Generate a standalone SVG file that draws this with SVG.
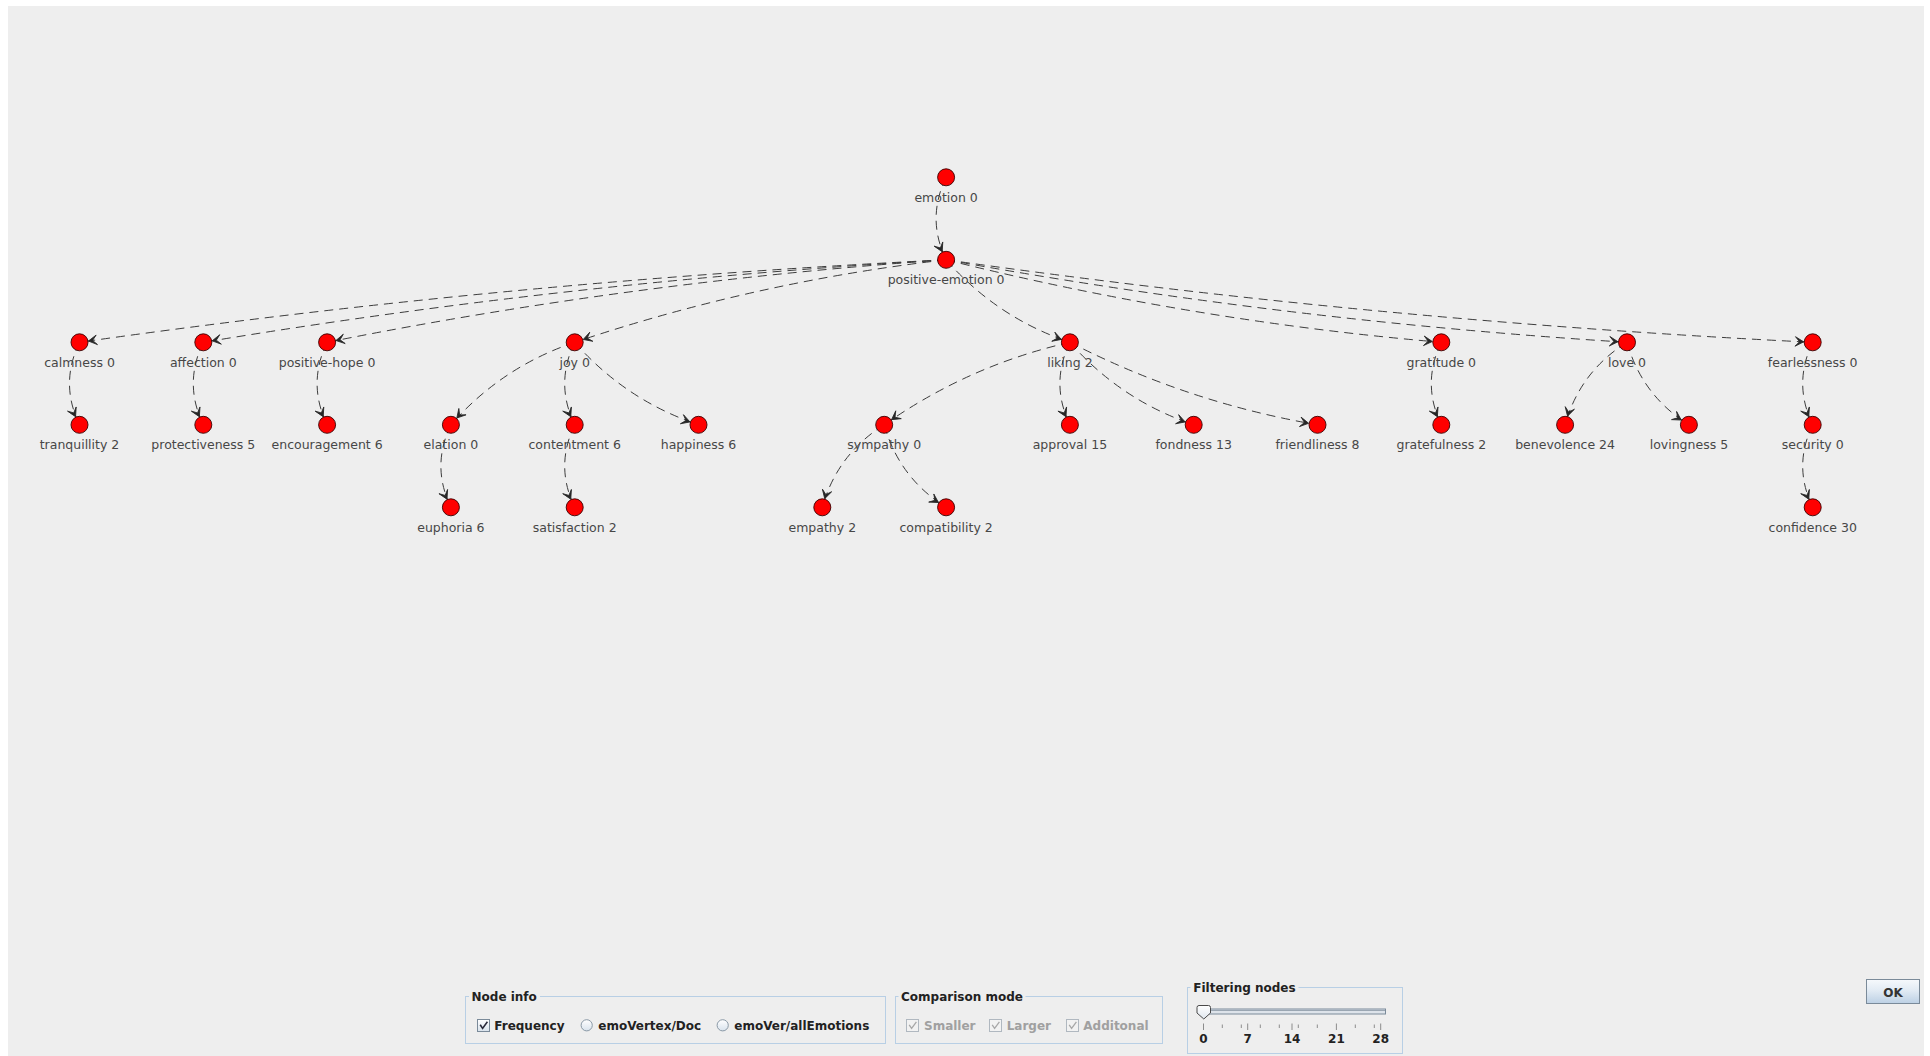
<svg xmlns="http://www.w3.org/2000/svg" width="1930" height="1056" viewBox="0 0 1930 1056">
<style>
.node circle{fill:#ff0000;stroke:#3a0000;stroke-width:0.9}
.node text{font-family:"DejaVu Sans",sans-serif;font-size:12.5px;fill:#474747;text-anchor:middle}
.edges path{fill:none;stroke:#3c3c3c;stroke-width:1;stroke-dasharray:9 6;marker-end:url(#arr)}
.ui{font-family:"DejaVu Sans",sans-serif;font-size:12px;font-weight:bold;fill:#222}
.dis{fill:#a0a0a0}
.tb{fill:none;stroke:#b8cfe5;stroke-width:1}
.gap{fill:#eeeeee}
.cb{fill:url(#cbg);stroke:#7a8a99;stroke-width:1}
.cbd{fill:#f2f2f2;stroke:#b0b8c0;stroke-width:1}
.ck{fill:none;stroke:#2a2a3a;stroke-width:1.6}
.ckd{fill:none;stroke:#a8a8a8;stroke-width:1.3}
.rb{fill:url(#cbg);stroke:#8a99a6;stroke-width:1}
.tick{stroke:#8c8c8c;stroke-width:1}
</style>
<defs>
<marker id="arr" markerUnits="userSpaceOnUse" orient="auto" viewBox="-20 -7 20 14" markerWidth="20" markerHeight="14" refX="0" refY="0" overflow="visible">
<path d="M-9 0 L-17.5 -4.8 L-13.2 0 L-17.5 4.8 Z" fill="#262626" stroke="#262626" stroke-width="0.8" stroke-linejoin="round"/>
</marker>
<linearGradient id="cbg" x1="0" y1="0" x2="0" y2="1">
<stop offset="0" stop-color="#ffffff"/>
<stop offset="1" stop-color="#d8e2ec"/>
</linearGradient>
<linearGradient id="okg" x1="0" y1="0" x2="0" y2="1">
<stop offset="0" stop-color="#f6f9fc"/>
<stop offset="0.45" stop-color="#e2ebf4"/>
<stop offset="1" stop-color="#bcd0e4"/>
</linearGradient>
<linearGradient id="thg" x1="0" y1="0" x2="0" y2="1">
<stop offset="0" stop-color="#ffffff"/>
<stop offset="1" stop-color="#dfe6ee"/>
</linearGradient>
</defs>
<rect x="0" y="0" width="1930" height="1056" fill="#ffffff"/>
<rect x="8" y="6" width="1916" height="1050" fill="#eeeeee"/>

<g id="connectors" class="edges">
<path d="M946.1 177.3 Q926.1 218.55 946.1 259.8"/>
<path d="M946.1 259.8 Q510.9 281.14 79.5 342.3"/>
<path d="M946.1 259.8 Q572.49 281.17 203.3 342.3"/>
<path d="M946.1 259.8 Q633.96 281.23 327.1 342.3"/>
<path d="M946.1 259.8 Q756.06 281.53 574.7 342.3"/>
<path d="M946.1 259.8 Q996.91 317.69 1069.9 342.3"/>
<path d="M946.1 259.8 Q1190.41 320.78 1441.3 342.3"/>
<path d="M946.1 259.8 Q1284.14 320.9 1627 342.3"/>
<path d="M946.1 259.8 Q1377.5 320.96 1812.7 342.3"/>
<path d="M79.5 342.3 Q59.5 383.55 79.5 424.8"/>
<path d="M203.3 342.3 Q183.3 383.55 203.3 424.8"/>
<path d="M327.1 342.3 Q307.1 383.55 327.1 424.8"/>
<path d="M574.7 342.3 Q501.71 366.91 450.9 424.8"/>
<path d="M574.7 342.3 Q554.7 383.55 574.7 424.8"/>
<path d="M574.7 342.3 Q625.51 400.19 698.5 424.8"/>
<path d="M1069.9 342.3 Q968.93 365.27 884.2 424.8"/>
<path d="M1069.9 342.3 Q1049.9 383.55 1069.9 424.8"/>
<path d="M1069.9 342.3 Q1120.71 400.19 1193.7 424.8"/>
<path d="M1069.9 342.3 Q1187.38 402.53 1317.5 424.8"/>
<path d="M1441.3 342.3 Q1421.3 383.55 1441.3 424.8"/>
<path d="M1627 342.3 Q1580.05 371.55 1565.1 424.8"/>
<path d="M1627 342.3 Q1641.95 395.55 1688.9 424.8"/>
<path d="M1812.7 342.3 Q1792.7 383.55 1812.7 424.8"/>
<path d="M450.9 424.8 Q430.9 466.05 450.9 507.3"/>
<path d="M574.7 424.8 Q554.7 466.05 574.7 507.3"/>
<path d="M884.2 424.8 Q837.25 454.05 822.3 507.3"/>
<path d="M884.2 424.8 Q899.15 478.05 946.1 507.3"/>
<path d="M1812.7 424.8 Q1792.7 466.05 1812.7 507.3"/>
</g>

<g id="n-emotion" class="node"><circle cx="946.1" cy="177.3" r="8.5"/><text x="946.1" y="201.8">emotion 0</text></g>
<g id="n-positive-emotion" class="node"><circle cx="946.1" cy="259.8" r="8.5"/><text x="946.1" y="284.3">positive-emotion 0</text></g>
<g id="n-calmness" class="node"><circle cx="79.5" cy="342.3" r="8.5"/><text x="79.5" y="366.8">calmness 0</text></g>
<g id="n-affection" class="node"><circle cx="203.3" cy="342.3" r="8.5"/><text x="203.3" y="366.8">affection 0</text></g>
<g id="n-positive-hope" class="node"><circle cx="327.1" cy="342.3" r="8.5"/><text x="327.1" y="366.8">positive-hope 0</text></g>
<g id="n-joy" class="node"><circle cx="574.7" cy="342.3" r="8.5"/><text x="574.7" y="366.8">joy 0</text></g>
<g id="n-liking" class="node"><circle cx="1069.9" cy="342.3" r="8.5"/><text x="1069.9" y="366.8">liking 2</text></g>
<g id="n-gratitude" class="node"><circle cx="1441.3" cy="342.3" r="8.5"/><text x="1441.3" y="366.8">gratitude 0</text></g>
<g id="n-love" class="node"><circle cx="1627" cy="342.3" r="8.5"/><text x="1627" y="366.8">love 0</text></g>
<g id="n-fearlessness" class="node"><circle cx="1812.7" cy="342.3" r="8.5"/><text x="1812.7" y="366.8">fearlessness 0</text></g>
<g id="n-tranquillity" class="node"><circle cx="79.5" cy="424.8" r="8.5"/><text x="79.5" y="449.3">tranquillity 2</text></g>
<g id="n-protectiveness" class="node"><circle cx="203.3" cy="424.8" r="8.5"/><text x="203.3" y="449.3">protectiveness 5</text></g>
<g id="n-encouragement" class="node"><circle cx="327.1" cy="424.8" r="8.5"/><text x="327.1" y="449.3">encouragement 6</text></g>
<g id="n-elation" class="node"><circle cx="450.9" cy="424.8" r="8.5"/><text x="450.9" y="449.3">elation 0</text></g>
<g id="n-contentment" class="node"><circle cx="574.7" cy="424.8" r="8.5"/><text x="574.7" y="449.3">contentment 6</text></g>
<g id="n-happiness" class="node"><circle cx="698.5" cy="424.8" r="8.5"/><text x="698.5" y="449.3">happiness 6</text></g>
<g id="n-sympathy" class="node"><circle cx="884.2" cy="424.8" r="8.5"/><text x="884.2" y="449.3">sympathy 0</text></g>
<g id="n-approval" class="node"><circle cx="1069.9" cy="424.8" r="8.5"/><text x="1069.9" y="449.3">approval 15</text></g>
<g id="n-fondness" class="node"><circle cx="1193.7" cy="424.8" r="8.5"/><text x="1193.7" y="449.3">fondness 13</text></g>
<g id="n-friendliness" class="node"><circle cx="1317.5" cy="424.8" r="8.5"/><text x="1317.5" y="449.3">friendliness 8</text></g>
<g id="n-gratefulness" class="node"><circle cx="1441.3" cy="424.8" r="8.5"/><text x="1441.3" y="449.3">gratefulness 2</text></g>
<g id="n-benevolence" class="node"><circle cx="1565.1" cy="424.8" r="8.5"/><text x="1565.1" y="449.3">benevolence 24</text></g>
<g id="n-lovingness" class="node"><circle cx="1688.9" cy="424.8" r="8.5"/><text x="1688.9" y="449.3">lovingness 5</text></g>
<g id="n-security" class="node"><circle cx="1812.7" cy="424.8" r="8.5"/><text x="1812.7" y="449.3">security 0</text></g>
<g id="n-euphoria" class="node"><circle cx="450.9" cy="507.3" r="8.5"/><text x="450.9" y="531.8">euphoria 6</text></g>
<g id="n-satisfaction" class="node"><circle cx="574.7" cy="507.3" r="8.5"/><text x="574.7" y="531.8">satisfaction 2</text></g>
<g id="n-empathy" class="node"><circle cx="822.3" cy="507.3" r="8.5"/><text x="822.3" y="531.8">empathy 2</text></g>
<g id="n-compatibility" class="node"><circle cx="946.1" cy="507.3" r="8.5"/><text x="946.1" y="531.8">compatibility 2</text></g>
<g id="n-confidence" class="node"><circle cx="1812.7" cy="507.3" r="8.5"/><text x="1812.7" y="531.8">confidence 30</text></g>

<g id="panel-node-info">
<rect class="tb" x="465.5" y="996.5" width="420" height="47"/>
<rect class="gap" x="469" y="990" width="71" height="12"/>
<text class="ui" x="471.5" y="1001">Node info</text>
<rect class="cb" x="477.5" y="1019.5" width="12" height="12"/>
<path class="ck" d="M480.2 1024.8 L482.6 1028.4 L487.4 1021.8"/>
<text class="ui" x="494.3" y="1029.5">Frequency</text>
<circle class="rb" cx="586.7" cy="1025.3" r="5.6"/>
<text class="ui" x="598.3" y="1029.5">emoVertex/Doc</text>
<circle class="rb" cx="722.7" cy="1025.3" r="5.6"/>
<text class="ui" x="734.3" y="1029.5">emoVer/allEmotions</text>
</g>

<g id="panel-comparison">
<rect class="tb" x="895.5" y="996.5" width="267" height="47"/>
<rect class="gap" x="898.5" y="990" width="127" height="12"/>
<text class="ui" x="901" y="1001">Comparison mode</text>
<rect class="cbd" x="906.5" y="1019.5" width="12" height="12"/>
<path class="ckd" d="M909.2 1024.8 L911.6 1028.4 L916.4 1021.8"/>
<text class="ui dis" x="924" y="1029.5">Smaller</text>
<rect class="cbd" x="989.5" y="1019.5" width="12" height="12"/>
<path class="ckd" d="M992.2 1024.8 L994.6 1028.4 L999.4 1021.8"/>
<text class="ui dis" x="1006.7" y="1029.5">Larger</text>
<rect class="cbd" x="1066.5" y="1019.5" width="12" height="12"/>
<path class="ckd" d="M1069.2 1024.8 L1071.6 1028.4 L1076.4 1021.8"/>
<text class="ui dis" x="1083.3" y="1029.5">Additonal</text>
</g>

<g id="panel-filtering">
<rect class="tb" x="1187.5" y="987.5" width="215" height="66"/>
<rect class="gap" x="1190.5" y="981" width="108" height="12"/>
<text class="ui" x="1193.3" y="992">Filtering nodes</text>
<rect x="1203.5" y="1009" width="182" height="5" fill="#dde3ea" stroke="#7a8a99" stroke-width="1"/>
<line x1="1204" y1="1010.5" x2="1385" y2="1010.5" stroke="#9aa6b2" stroke-width="1"/>
<path d="M1199 1005.5 H1208.5 Q1210.5 1005.5 1210.5 1007.5 V1013 L1203.8 1019 L1197 1013 V1007.5 Q1197 1005.5 1199 1005.5 Z" fill="url(#thg)" stroke="#4a4a4a" stroke-width="1"/>
<g class="tick">
<line x1="1203.5" y1="1023.5" x2="1203.5" y2="1030"/>
<line x1="1247.7" y1="1023.5" x2="1247.7" y2="1030"/>
<line x1="1292" y1="1023.5" x2="1292" y2="1030"/>
<line x1="1336.4" y1="1023.5" x2="1336.4" y2="1030"/>
<line x1="1380.7" y1="1023.5" x2="1380.7" y2="1030"/>
<line x1="1222.3" y1="1024.5" x2="1222.3" y2="1028"/>
<line x1="1241.3" y1="1024.5" x2="1241.3" y2="1028"/>
<line x1="1260.3" y1="1024.5" x2="1260.3" y2="1028"/>
<line x1="1279.3" y1="1024.5" x2="1279.3" y2="1028"/>
<line x1="1298.3" y1="1024.5" x2="1298.3" y2="1028"/>
<line x1="1317.3" y1="1024.5" x2="1317.3" y2="1028"/>
<line x1="1355.3" y1="1024.5" x2="1355.3" y2="1028"/>
<line x1="1374.3" y1="1024.5" x2="1374.3" y2="1028"/>
</g>
<g class="ui" text-anchor="middle">
<text x="1203.5" y="1043.3">0</text>
<text x="1247.7" y="1043.3">7</text>
<text x="1292" y="1043.3">14</text>
<text x="1336.4" y="1043.3">21</text>
<text x="1380.7" y="1043.3">28</text>
</g>
</g>

<g id="btn-ok">
<rect x="1866.5" y="979.5" width="53" height="24" fill="url(#okg)" stroke="#7a8a99" stroke-width="1"/>
<text class="ui" x="1893" y="996.5" text-anchor="middle" style="fill:#333">OK</text>
</g>
</svg>
